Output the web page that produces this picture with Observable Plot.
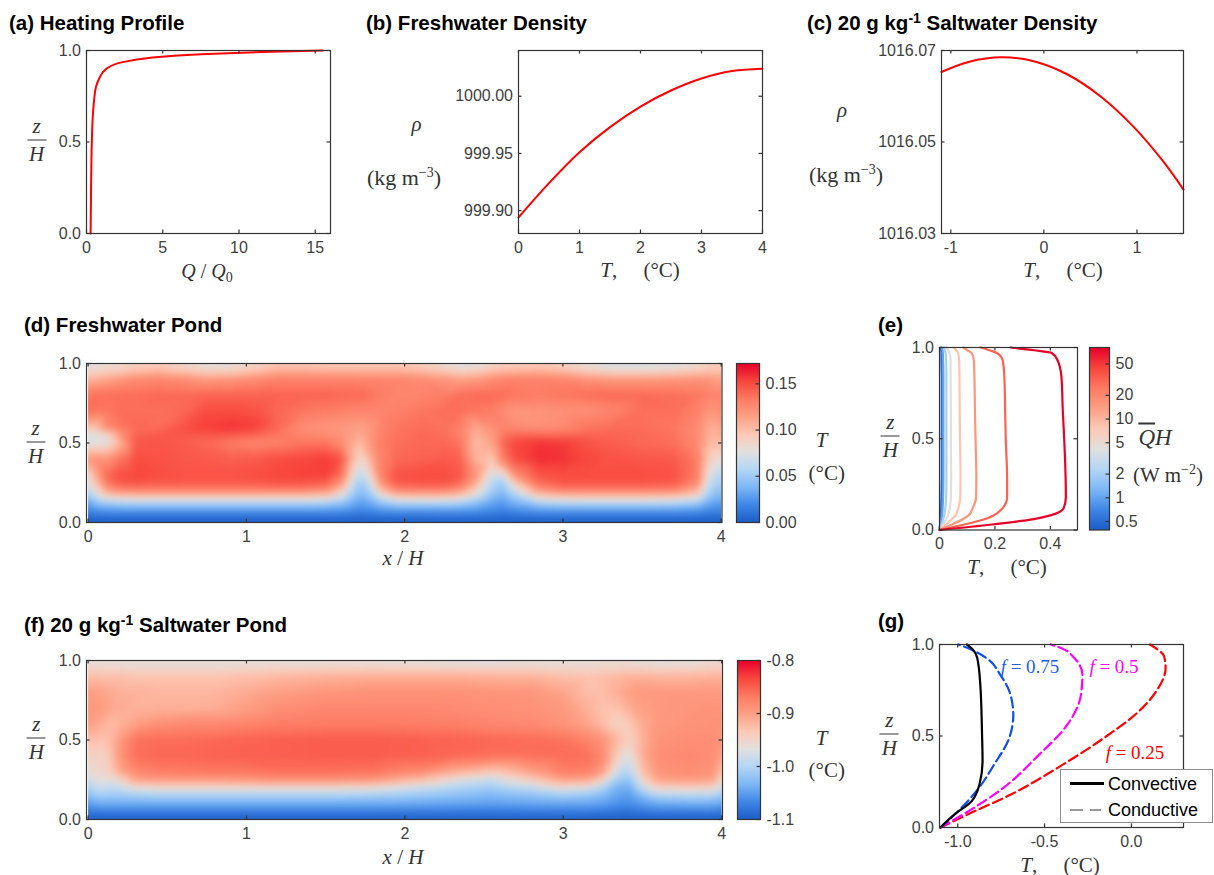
<!DOCTYPE html>
<html><head><meta charset="utf-8">
<script src="https://cdn.jsdelivr.net/npm/d3@7"></script>
<script src="https://cdn.jsdelivr.net/npm/@observablehq/plot@0.6"></script>
<style>
html,body{margin:0;padding:0;background:#fff;}
#page{position:relative;width:1214px;height:875px;overflow:hidden;font-family:"Liberation Sans",sans-serif;}
.box{position:absolute;}
.box svg{max-width:none;display:block;overflow:visible;}
.ttl{position:absolute;font:bold 20.5px "Liberation Sans",sans-serif;color:#000;white-space:nowrap;line-height:22px;}
.ttl sup{font-size:14px;line-height:0;vertical-align:7px;}
.m{position:absolute;transform:translate(-50%,-50%);font:21px "Liberation Serif",serif;color:#333;white-space:nowrap;line-height:1;}
.m sup{font-size:14px;line-height:0;vertical-align:8px;}
.m sub{font-size:14px;line-height:0;vertical-align:-4px;}
.frac{display:inline-flex;flex-direction:column;align-items:center;font-size:21px;}
.frac b{font-weight:normal;font-style:italic;}
.frac b:first-child{border-bottom:1.2px solid #333;padding-bottom:3px;margin-bottom:3px;width:100%;text-align:center;min-width:19px;}
</style></head><body><div id="page"></div>
<script>
// ---------- colour map ----------
const pondStops = ["#1b5cc6","#3f86e6","#7db7f6","#b4d6f6","#e2e0de","#fdc9b6","#fd9f84","#fd7a62","#f8453c","#e6002a"];
const pond = d3.piecewise(d3.interpolateRgb, pondStops);

// ---------- (a) heating profile ----------
const heatQ = [0.27,0.3,0.35,0.42,0.5,0.62,0.85,1.3,2.3,4.2,7.5,11.5,15.5];
const heatZ = [0,0.25,0.5,0.65,0.73,0.8,0.85,0.9,0.935,0.96,0.98,0.992,1];

// ---------- (b) freshwater density ----------
const freshT = [0,0.5,1,1.5,2,2.5,3,3.5,4];
const freshRho = [999.894,999.924,999.951,999.973,999.991,1000.005,1000.0155,1000.022,1000.024];

// ---------- (c) saltwater density ----------
const saltT = [-1.1,-0.81,-0.45,-0.1,0.26,0.62,0.975,1.28,1.5];
const saltRho = [1016.0653,1016.0675,1016.0685,1016.0676,1016.0647,1016.0598,1016.0531,1016.0458,1016.0396];

// ---------- (d) freshwater pond, T in 0.001 °C ----------
const dX = [0,.05,.12,.2,.3,.45,.6,.75,.9,1.05,1.2,1.35,1.5,1.6,1.66,1.72,1.78,1.85,1.95,2.1,2.25,2.35,2.45,2.55,2.62,2.7,2.85,3,3.15,3.3,3.5,3.7,3.85,3.92,3.97,4];
const dZ = [0,.04,.08,.12,.16,.2,.25,.3,.4,.5,.55,.6,.7,.8,.9,.95,1];
const dT = [
[0,0,0,0,0,0,0,0,0,0,0,0,0,0,0,0,0,0,0,0,0,0,0,0,0,0,0,0,0,0,0,0,0,0,0,0],
[9,10,11,11,11,11,11,11,11,11,11,11,11,11,10,9,10,11,11,11,12,12,12,10,9,10,12,12,12,12,12,12,11,9,9,9],
[20,26,28,29,29,29,29,29,29,29,29,29,29,27,24,20,22,27,29,29,29,29,27,22,20,23,29,30,30,30,30,30,28,23,20,20],
[30,43,50,54,56,56,56,56,56,56,56,56,54,46,36,28,33,46,56,58,58,54,44,31,26,36,53,58,60,60,60,58,50,34,28,28],
[45,65,82,88,90,90,90,90,90,90,90,90,86,68,48,36,44,70,90,92,92,84,66,42,34,50,84,92,94,94,94,92,78,48,38,38],
[60,85,112,125,128,128,128,128,128,128,128,128,122,95,60,44,56,98,126,128,128,118,88,52,42,68,118,128,128,128,128,126,105,58,46,46],
[75,100,135,146,148,146,146,146,146,146,148,148,145,120,75,50,70,120,146,148,148,140,110,60,50,95,140,148,148,148,148,146,125,68,54,54],
[85,110,140,150,152,150,148,148,148,150,152,154,155,138,92,60,85,130,148,150,150,146,120,72,78,125,148,150,150,150,150,148,132,80,62,62],
[118,122,120,135,150,148,146,145,143,145,150,152,155,148,110,85,105,130,140,142,145,143,105,95,130,150,160,158,152,148,146,145,132,95,82,82],
[76,76,80,105,146,147,145,140,132,128,130,135,135,125,112,102,118,132,138,140,140,136,100,112,140,152,158,156,148,144,140,138,125,105,100,105],
[72,74,84,120,142,146,146,146,145,142,135,128,125,120,114,110,118,130,136,140,138,130,105,118,134,140,140,140,142,142,140,136,125,108,104,110],
[100,100,128,135,140,138,148,155,158,155,140,124,120,118,116,114,118,128,135,138,137,132,112,122,128,125,122,125,135,138,138,135,125,110,108,115],
[138,135,135,138,138,138,140,150,150,148,140,135,132,130,128,128,128,128,130,135,138,138,135,132,125,118,120,122,122,128,138,138,130,120,120,125],
[135,138,138,138,138,140,140,142,142,142,142,142,142,140,140,140,137,132,128,128,132,138,140,140,138,135,132,135,138,140,140,138,135,130,128,130],
[105,108,112,118,125,128,125,118,120,125,130,130,130,130,130,128,128,128,128,125,120,115,118,125,128,130,130,128,122,118,118,120,122,120,115,115],
[85,88,92,95,102,105,98,90,92,100,110,110,108,108,108,108,108,108,108,104,96,90,92,100,104,106,108,104,94,88,88,90,96,100,100,100],
[78,78,78,80,86,90,84,76,76,84,92,92,92,92,92,92,92,92,92,88,80,72,72,82,88,90,90,86,76,68,68,72,80,88,90,90]
];

// ---------- (f) saltwater pond, T in 0.001 °C ----------
const fX = [0,.05,.1,.15,.2,.3,.45,.6,.8,1,1.2,1.5,1.8,2.1,2.3,2.55,2.8,3,3.15,3.25,3.32,3.38,3.43,3.5,3.6,3.8,3.95,4];
const fZ = [0,.04,.08,.12,.16,.2,.25,.3,.4,.5,.6,.7,.8,.9,.95,1];
const fT = [
[-1100,-1100,-1100,-1100,-1100,-1100,-1100,-1100,-1100,-1100,-1100,-1100,-1100,-1100,-1100,-1100,-1100,-1100,-1100,-1100,-1100,-1100,-1100,-1100,-1100,-1100,-1100,-1100],
[-1082,-1080,-1080,-1080,-1080,-1080,-1080,-1080,-1080,-1080,-1080,-1080,-1080,-1080,-1080,-1081,-1080,-1080,-1080,-1081,-1083,-1085,-1085,-1083,-1080,-1080,-1080,-1083],
[-1062,-1052,-1052,-1052,-1052,-1052,-1052,-1052,-1052,-1052,-1052,-1052,-1052,-1054,-1056,-1058,-1056,-1054,-1055,-1058,-1064,-1068,-1068,-1060,-1052,-1050,-1050,-1058],
[-1045,-1030,-1030,-1030,-1028,-1028,-1028,-1028,-1028,-1028,-1028,-1028,-1030,-1032,-1036,-1040,-1036,-1032,-1034,-1040,-1050,-1056,-1056,-1045,-1030,-1025,-1025,-1035],
[-1025,-1005,-1005,-1010,-1010,-1000,-995,-995,-995,-995,-995,-995,-1000,-1010,-1018,-1028,-1018,-1005,-1010,-1025,-1042,-1050,-1048,-1020,-990,-985,-990,-1010],
[-1005,-985,-985,-990,-985,-965,-955,-955,-955,-955,-955,-955,-960,-985,-1000,-1012,-990,-962,-968,-1000,-1030,-1040,-1035,-985,-950,-945,-950,-990],
[-985,-965,-965,-965,-950,-900,-895,-895,-895,-890,-885,-885,-890,-925,-960,-985,-940,-900,-905,-945,-1000,-1020,-1015,-950,-900,-895,-900,-960],
[-965,-950,-950,-935,-905,-880,-870,-868,-865,-865,-860,-860,-862,-880,-910,-935,-900,-870,-872,-900,-960,-1000,-990,-925,-890,-885,-890,-935],
[-945,-945,-950,-925,-890,-860,-855,-855,-852,-850,-850,-848,-848,-850,-855,-860,-860,-858,-860,-880,-925,-965,-960,-910,-885,-880,-885,-905],
[-925,-925,-930,-920,-895,-862,-858,-858,-855,-852,-850,-848,-848,-850,-852,-855,-858,-862,-875,-890,-910,-935,-940,-915,-890,-885,-885,-890],
[-900,-905,-915,-925,-915,-900,-885,-880,-880,-875,-870,-868,-868,-870,-872,-878,-882,-890,-905,-925,-945,-945,-930,-910,-895,-890,-888,-888],
[-895,-895,-900,-905,-910,-915,-915,-915,-912,-900,-885,-880,-880,-880,-882,-885,-888,-895,-915,-930,-930,-920,-910,-900,-895,-892,-890,-890],
[-900,-900,-905,-910,-915,-915,-918,-918,-918,-910,-900,-892,-888,-888,-888,-890,-892,-905,-925,-925,-915,-905,-900,-895,-895,-895,-895,-895],
[-925,-925,-925,-925,-925,-930,-930,-930,-930,-925,-920,-915,-912,-912,-912,-915,-915,-925,-928,-925,-920,-918,-915,-915,-918,-918,-915,-915],
[-945,-947,-947,-947,-947,-949,-949,-949,-949,-947,-945,-942,-941,-941,-941,-944,-944,-947,-949,-947,-945,-943,-943,-943,-945,-945,-940,-940],
[-968,-968,-968,-968,-968,-968,-968,-968,-968,-968,-968,-968,-968,-972,-975,-975,-972,-968,-965,-962,-962,-962,-968,-972,-975,-972,-962,-962]
];

// ---------- (e) mean temperature profiles ----------
const eZ = [0,.03,.06,.08,.12,.18,.29,.5,.65,.84,.93,.97,.985,1];
const eProfiles = [
  {Q:0.5,T:[0,.002,.004,.005,.006,.007,.008,.008,.008,.008,.007,.007,.006,.005]},
  {Q:1,T:[0,.004,.007,.009,.011,.013,.014,.014,.014,.014,.013,.012,.011,.009]},
  {Q:2,T:[0,.007,.013,.017,.021,.024,.025,.025,.025,.025,.024,.022,.019,.016]},
  {Q:4,T:[0,.013,.024,.031,.037,.041,.042,.041,.041,.04,.04,.036,.031,.025]},
  {Q:8,T:[0,.024,.045,.058,.068,.075,.076,.074,.073,.072,.071,.067,.06,.052]},
  {Q:16,T:[0,.045,.085,.105,.12,.132,.133,.13,.128,.126,.124,.116,.10,.086]},
  {Q:32,T:[0,.09,.165,.195,.228,.244,.244,.239,.237,.234,.228,.207,.18,.148]},
  {Q:80,T:[0,.19,.34,.40,.448,.456,.455,.45,.445,.44,.426,.405,.342,.256]}
];

// ---------- (g) saltwater profiles ----------
const gConvective = {T:[-1.1,-1.02,-.92,-.875,-.857,-.86,-.87,-.888,-.913,-.947], z:[0,.07,.144,.235,.362,.508,.78,.927,.973,1]};
const gF75 = {T:[-1.1,-.997,-.885,-.79,-.703,-.68,-.703,-.75,-.837,-.923,-.997], z:[0,.09,.208,.344,.49,.617,.745,.827,.927,.973,1]};
const gF50 = {T:[-1.1,-.923,-.737,-.54,-.368,-.29,-.282,-.33,-.387,-.464], z:[0,.098,.217,.39,.563,.727,.836,.927,.973,1]};
const gF25 = {T:[-1.1,-.923,-.694,-.425,-.157,.034,.15,.197,.188,.15,.107], z:[0,.08,.18,.326,.49,.627,.754,.872,.936,.973,1]};

// ---------- helpers ----------
const page = document.getElementById("page");
const INK = "#404040", EDGE = "#333333";
const pts = (a,b) => a.map((v,i)=>({a:v,b:b[i]}));
const grid = (xs,zs,rows) => zs.flatMap((z,j)=>xs.map((x,i)=>({x,z,v:rows[j][i]/1000})));

function panel({L,T,R,B,xDomain,yDomain,xTicks,yTicks,xFmt,yFmt,yType,color,marks,bar}) {
  const m = {l:70,r:70,t:12,b:34};
  const W = R-L, H = B-T, TK = 3.5;
  // inward tick marks, drawn as short rules whose length is a fraction of the frame
  const [x0,x1] = xDomain, [y0,y1] = yDomain;
  const kx = (x1-x0)*TK/W, ky = (y1-y0)*TK/H;
  const tick = {stroke:EDGE,strokeWidth:1.2};
  const rightTicks = Plot.ruleY(yTicks,{y:d=>d,x1:x1-kx,x2:x1,...tick});
  const axes = bar ? (yType==="log"
    ? [rightTicks, Plot.text(yTicks,{y:d=>d,text:yFmt,frameAnchor:"right",textAnchor:"start",dx:6,fill:INK})]
    : [rightTicks, Plot.axisY({anchor:"right",ticks:yTicks,tickFormat:yFmt,tickSize:0,tickPadding:6,label:null})]
  ) : [
    Plot.axisX({anchor:"bottom",ticks:xTicks,tickFormat:xFmt,tickSize:0,tickPadding:8,label:null}),
    Plot.ruleX(xTicks,{x:d=>d,y1:y0,y2:y0+ky,...tick}),
    Plot.ruleX(xTicks,{x:d=>d,y1:y1-ky,y2:y1,...tick}),
    Plot.axisY({anchor:"left",ticks:yTicks,tickFormat:yFmt,tickSize:0,tickPadding:5.5,label:null}),
    Plot.ruleY(yTicks,{y:d=>d,x1:x0,x2:x0+kx,...tick}),
    rightTicks
  ];
  const plot = Plot.plot({
    width:W+m.l+m.r, height:H+m.t+m.b,
    marginLeft:m.l, marginRight:m.r, marginTop:m.t, marginBottom:m.b,
    style:{background:"transparent",fontFamily:'"Liberation Sans",sans-serif',fontSize:"16px",color:INK},
    x:{domain:xDomain,axis:null},
    y:{domain:yDomain,type:yType||"linear",axis:null},
    color,
    marks:[...marks,Plot.frame({stroke:EDGE,strokeWidth:1.2}),...axes]
  });
  const box = document.createElement("div");
  box.className = "box";
  box.style.left = (L-m.l)+"px";
  box.style.top = (T-m.t)+"px";
  box.appendChild(plot);
  page.appendChild(box);
}
function title(html,x,y){const d=document.createElement("div");d.className="ttl";d.innerHTML=html;d.style.left=x+"px";d.style.top=y+"px";page.appendChild(d);}
function math(html,x,y,extra){const d=document.createElement("div");d.className="m";d.innerHTML=html;d.style.left=x+"px";d.style.top=y+"px";if(extra)Object.assign(d.style,extra);page.appendChild(d);}
const zH = (x,y)=>math('<span class="frac"><b>z</b><b>H</b></span>',x,y);
const TC = '<i>T</i>,&nbsp;&nbsp;&nbsp;&nbsp;&nbsp;(°C)';
const f1 = d3.format(".1f"), f2 = d3.format(".2f");
const RED = "#ff0000";

const pondScale = domain => ({type:"linear",domain,interpolate:pond});

// (a)
title("(a) Heating Profile",9,12);
panel({L:85.5,T:49.5,R:329.5,B:232.5,xDomain:[0,16],yDomain:[0,1],xTicks:[0,5,10,15],yTicks:[0,.5,1],xFmt:String,yFmt:f1,
  marks:[Plot.line(pts(heatQ,heatZ),{x:"a",y:"b",stroke:RED,strokeWidth:2,curve:"monotone-y"})]});
zH(36.5,139.5);
math('<i>Q</i> / <i>Q</i><sub>0</sub>',207,271,{fontSize:"20px"});

// (b)
title("(b) Freshwater Density",366,12);
panel({L:518,T:49.5,R:762,B:232.5,xDomain:[0,4],yDomain:[999.88,1000.04],xTicks:[0,1,2,3,4],yTicks:[999.9,999.95,1000],xFmt:String,yFmt:f2,
  marks:[Plot.line(pts(freshT,freshRho),{x:"a",y:"b",stroke:RED,strokeWidth:2,curve:"catmull-rom"})]});
math('<i>ρ</i>',416.5,124);
math('(kg m<sup>−3</sup>)',404,178,{fontSize:"22px"});
math(TC,640,270);

// (c)
title("(c) 20 g kg<sup>-1</sup> Saltwater Density",807,12);
panel({L:940.5,T:49.5,R:1182.5,B:232.5,xDomain:[-1.1,1.5],yDomain:[1016.03,1016.07],xTicks:[-1,0,1],yTicks:[1016.03,1016.05,1016.07],xFmt:String,yFmt:f2,
  marks:[Plot.line(pts(saltT,saltRho),{x:"a",y:"b",stroke:RED,strokeWidth:2,curve:"catmull-rom"})]});
math('<i>ρ</i>',842,110);
math('(kg m<sup>−3</sup>)',846,175,{fontSize:"22px"});
math(TC,1063,270);

// (d)
title("(d) Freshwater Pond",24,314);
const dColor = pondScale([0,.172]);
panel({L:85.5,T:362.5,R:721,B:521.5,xDomain:[-.01,4.005],yDomain:[0,1],xTicks:[0,1,2,3,4],yTicks:[0,.5,1],xFmt:String,yFmt:f1,color:dColor,
  marks:[Plot.raster(grid(dX,dZ,dT),{x:"x",y:"z",fill:"v",x1:0,x2:4,y1:0,y2:1,interpolate:"barycentric",pixelSize:1,blur:2.5})]});
panel({bar:true,L:736,T:362.5,R:759,B:521.5,xDomain:[0,1],yDomain:[0,.172],yTicks:[0,.05,.1,.15],yFmt:f2,color:dColor,
  marks:[Plot.raster({fill:(x,y)=>y,x1:0,x2:1,y1:0,y2:.172,pixelSize:1})]});
zH(35.5,441.7);
math('<i>x</i> / <i>H</i>',403,558);
math('<i>T</i>',821.7,440);
math('(°C)',826.7,472.7);

// (e)
title("(e)",878,314);
const eColor = {type:"log",domain:[.39,81],interpolate:pond};
panel({L:938.5,T:346.5,R:1076.5,B:529,xDomain:[0,.498],yDomain:[0,1],xTicks:[0,.2,.4],yTicks:[0,.5,1],xFmt:String,yFmt:f1,color:eColor,
  marks:eProfiles.map(p=>Plot.line(pts(p.T,eZ),{x:"a",y:"b",stroke:()=>p.Q,strokeWidth:2.2,curve:"monotone-y"}))});
panel({bar:true,L:1088.5,T:346.5,R:1108.5,B:529,xDomain:[0,1],yDomain:[.39,81],yType:"log",yTicks:[.5,1,2,5,10,20,50],yFmt:String,color:eColor,
  marks:[Plot.raster({fill:(x,y)=>y,x1:0,x2:1,y1:.39,y2:81,pixelSize:1})]});
zH(890.3,436);
math(TC,1007,566.5);
math('<span style="text-decoration:overline;font-style:italic">Q</span><i>H</i>',1155,437,{fontSize:"23px"});
math('(W m<sup>−2</sup>)',1168,475);

// (f)
title("(f) 20 g kg<sup>-1</sup> Saltwater Pond",24,614);
const fColor = pondScale([-1.1,-.8]);
panel({L:85.5,T:659.5,R:721.5,B:818.5,xDomain:[-.01,4.005],yDomain:[0,1],xTicks:[0,1,2,3,4],yTicks:[0,.5,1],xFmt:String,yFmt:f1,color:fColor,
  marks:[Plot.raster(grid(fX,fZ,fT),{x:"x",y:"z",fill:"v",x1:0,x2:4,y1:0,y2:1,interpolate:"barycentric",pixelSize:1,blur:3})]});
panel({bar:true,L:736.5,T:659.5,R:759.5,B:818.5,xDomain:[0,1],yDomain:[-1.1,-.8],yTicks:[-1.1,-1,-.9,-.8],yFmt:d=>d.toFixed(1),color:fColor,
  marks:[Plot.raster({fill:(x,y)=>y,x1:0,x2:1,y1:-1.1,y2:-.8,pixelSize:1})]});
zH(36.3,738.3);
math('<i>x</i> / <i>H</i>',403,857);
math('<i>T</i>',821.7,737.7);
math('(°C)',826.7,770);

// (g)
title("(g)",878,610);
const dash = {strokeDasharray:"10,4.5",strokeWidth:2.2,curve:"monotone-y"};
panel({L:938.5,T:643.5,R:1182.5,B:826.5,xDomain:[-1.105,.3],yDomain:[0,1],xTicks:[-1,-.5,0],yTicks:[0,.5,1],xFmt:d=>d.toFixed(1),yFmt:f1,
  marks:[
    Plot.line(pts(gF25.T,gF25.z),{x:"a",y:"b",stroke:"#ff0000",...dash}),
    Plot.line(pts(gF50.T,gF50.z),{x:"a",y:"b",stroke:"#ff00ff",...dash}),
    Plot.line(pts(gF75.T,gF75.z),{x:"a",y:"b",stroke:"#0f4fe8",...dash}),
    Plot.line(pts(gConvective.T,gConvective.z),{x:"a",y:"b",stroke:"#000",strokeWidth:2.2,curve:"monotone-y"})
  ]});
zH(889.3,734);
math(TC,1060,865);
math('<i>f</i> = 0.75',1030,666,{color:"#1f5fe8",fontSize:"19px"});
math('<i>f</i> = 0.5',1114,666,{color:"#ff00ff",fontSize:"19px"});
math('<i>f</i> = 0.25',1135,752,{color:"#ff0000",fontSize:"19px"});

// legend
const lg = document.createElement("div");
lg.className = "box";
lg.style.cssText = "left:1060px;top:769px;width:153px;height:54px;box-sizing:border-box;background:#fff;border:1px solid #8c8c8c;";
lg.innerHTML = `
<div style="position:absolute;left:9px;top:12px;width:34px;height:2.5px;background:#000"></div>
<div style="position:absolute;left:47px;top:2px;font:18px 'Liberation Sans',sans-serif;color:#000;line-height:24px">Convective</div>
<div style="position:absolute;left:9px;top:39px;width:13px;height:2px;background:#999"></div>
<div style="position:absolute;left:29px;top:39px;width:11px;height:2px;background:#999"></div>
<div style="position:absolute;left:47px;top:28px;font:18px 'Liberation Sans',sans-serif;color:#000;line-height:24px">Conductive</div>`;
page.appendChild(lg);
</script></body></html>
